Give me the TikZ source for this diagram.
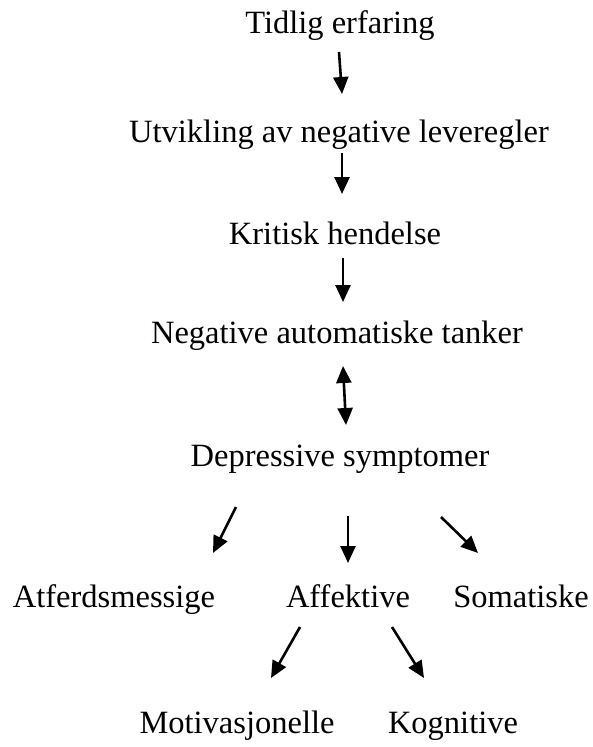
\documentclass[tikz,border=0pt]{standalone}
\usepackage{fontspec}
\setmainfont{Liberation Serif}
\usetikzlibrary{arrows.meta}
\begin{document}
\begin{tikzpicture}[x=1pt,y=-1pt,
  lbl/.style={inner sep=0pt,font=\fontsize{32.5}{38}\selectfont,anchor=base},
  arr/.style={line width=2.6pt,-{Triangle[length=17pt,width=15pt]}},
  darr/.style={line width=2.6pt,{Triangle[length=17pt,width=15pt]}-{Triangle[length=17pt,width=15pt]}}]
\useasboundingbox (0,0) rectangle (593,747);
\node[lbl] (t1) at (340,33) {Tidlig erfaring};
\node[lbl] (t2) at (339,142) {Utvikling av negative leveregler};
\node[lbl] (t3) at (335,244) {Kritisk hendelse};
\node[lbl] (t4) at (337,343) {Negative automatiske tanker};
\node[lbl] (t5) at (340,466) {Depressive symptomer};
\node[lbl] (t6) at (114,607) {Atferdsmessige};
\node[lbl] (t7) at (348,607) {Affektive};
\node[lbl] (t8) at (521,607) {Somatiske};
\node[lbl] (t9) at (237,733) {Motivasjonelle};
\node[lbl] (t10) at (453,733) {Kognitive};
\coordinate (a1s) at (339,52); \coordinate (a1e) at (342,94);
\coordinate (a2s) at (342,153); \coordinate (a2e) at (342,194);
\coordinate (a3s) at (343,258); \coordinate (a3e) at (343,302);
\coordinate (a4s) at (343,366); \coordinate (a4e) at (346,425);
\coordinate (a5s) at (236,507); \coordinate (a5e) at (213,553);
\coordinate (a6s) at (348,516); \coordinate (a6e) at (348,563);
\coordinate (a7s) at (441,517); \coordinate (a7e) at (478,553);
\coordinate (a8s) at (300,627); \coordinate (a8e) at (271,678);
\coordinate (a9s) at (392,627); \coordinate (a9e) at (424,678);
\draw[arr] (a1s) -- (a1e);
\draw[arr] (a2s) -- (a2e);
\draw[arr] (a3s) -- (a3e);
\draw[darr] (a4s) -- (a4e);
\draw[arr] (a5s) -- (a5e);
\draw[arr] (a6s) -- (a6e);
\draw[arr] (a7s) -- (a7e);
\draw[arr] (a8s) -- (a8e);
\draw[arr] (a9s) -- (a9e);
\end{tikzpicture}
\end{document}
